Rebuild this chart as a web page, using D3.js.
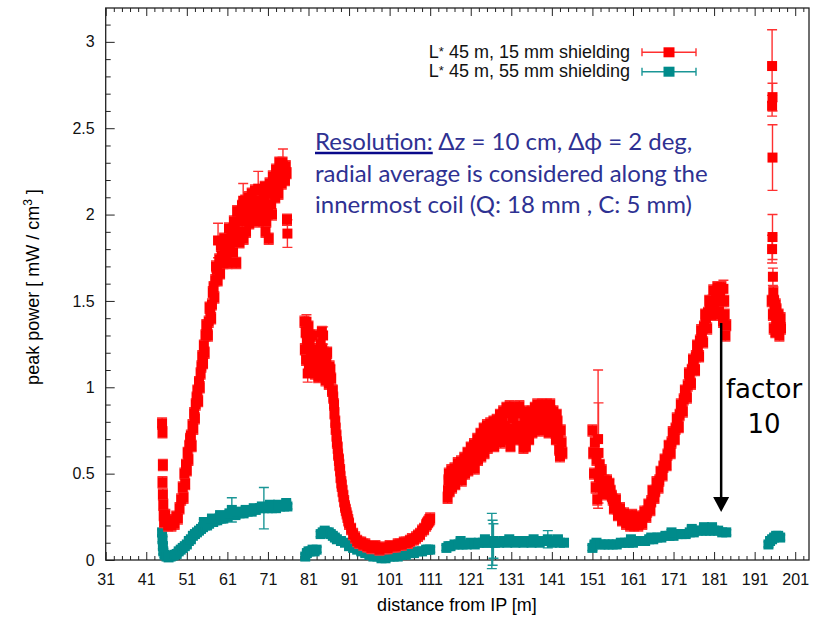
<!DOCTYPE html>
<html>
<head>
<meta charset="utf-8">
<script src="https://cdn.jsdelivr.net/npm/d3@7"></script>
<style>
  body { margin: 0; background: #fff; }
  text { font-family: "Liberation Sans", Arial, sans-serif; }
</style>
</head>
<body>
<div id="chart"></div>
<script>
// tick labels
var xTicks = [31, 41, 51, 61, 71, 81, 91, 101, 111, 121, 131, 141, 151, 161, 171, 181, 191, 201];
var yTicks = [0, 0.5, 1, 1.5, 2, 2.5, 3];
var legendLabels = ["L* 45 m, 15 mm shielding", "L* 45 m, 55 mm shielding"];

// [distance, peak power, error] ; error left out = small default error
var red15 = [
  // 45 - 76 m
  [44.9,0.79],[45.0,0.74],[45.1,0.55],[45.0,0.45],[45.1,0.38],[45.2,0.32],[45.3,0.26],[45.4,0.22],
  [45.7,0.26],[46.0,0.22],[46.4,0.20],[46.8,0.23],[47.2,0.20],[47.6,0.22],[48.0,0.21],[48.4,0.25],
  [48.8,0.24],[49.2,0.30],[49.6,0.35],[50.0,0.42],[50.4,0.50],[50.8,0.55],[51.2,0.62],[51.6,0.66],
  [52.0,0.72],[52.4,0.78],[52.8,0.85],[53.2,0.90],[53.6,0.98],[54.0,1.03],[54.4,1.08],[54.8,1.18],
  [55.2,1.24],[55.6,1.30],[56.0,1.34],[56.4,1.38],[56.8,1.44],[57.2,1.48],[57.6,1.58],[58.0,1.62],
  [58.4,1.68],[58.7,1.85,0.10],[59.2,1.66],[59.6,1.76],[60.0,1.72],[60.4,1.80],[60.8,1.76],[61.2,1.84],
  [61.6,1.80],[62.0,1.88],[62.4,1.78],[62.8,1.92],[63.2,1.72],[63.6,1.96],[64.0,1.84],[64.4,1.98],
  [64.9,2.08,0.10],[65.2,2.02],[65.6,1.90],[66.0,2.04],[66.4,1.95],[66.8,2.06],[67.2,1.98],[67.6,2.08],
  [68.0,2.00],[68.6,2.15,0.10],[68.8,1.96],[69.2,2.08],[69.6,2.00],[70.0,2.10],[70.4,1.90],[70.8,2.12],
  [71.2,1.86],[71.6,2.14],[72.0,2.00],[72.4,2.18],[72.8,2.10],[73.2,2.22],[73.6,2.12],[74.0,2.26],
  [74.4,2.18],[74.7,2.28,0.10],[75.2,2.20],[75.6,2.24],[75.7,1.97],[75.8,1.89,0.08],
  [50.2,0.36],[50.6,0.44],[51.0,0.52],[51.4,0.58],[51.8,0.70],[52.2,0.66],[52.6,0.76],[53.0,0.82],
  [53.4,0.94],[53.8,0.92],[54.2,1.00],[54.6,1.12],[55.0,1.14],[55.4,1.20],[55.8,1.36],[56.2,1.30],
  [56.6,1.46],[57.0,1.40],[57.4,1.55],[57.8,1.52],[58.2,1.70],[58.6,1.62],[59.0,1.74],[59.4,1.82],
  [60.2,1.86],[61.0,1.72],[61.4,1.92],[62.2,1.84],[62.6,1.96],[63.0,1.86],[63.4,2.02],[64.2,1.90],
  [64.6,2.05],[65.0,1.86],[65.4,2.08],[65.8,1.96],[66.2,2.10],[66.6,2.00],[67.0,2.12],[67.4,2.02],
  [67.8,2.14],[68.2,2.05],[69.0,2.14],[69.4,2.02],[69.8,2.06],[70.2,2.16],[70.6,1.96],[71.0,2.04],
  [71.4,2.18],[71.8,2.06],[72.2,2.22],[72.6,2.14],[73.0,2.26],[73.4,2.16],[73.8,2.30],[74.2,2.22],
  [74.6,2.30],[75.0,2.24],[75.4,2.28],
  // 80 - 111 m
  [80.0,1.38],[80.3,1.32],[80.5,1.38,0.04],[80.6,1.28],[80.8,1.08,0.05],[81.0,1.35],[81.3,1.25],
  [81.6,1.20],[82.0,1.30],[82.4,1.18],[82.8,1.12],[83.2,1.15],[83.6,1.10],[84.0,1.25],[84.3,1.32],
  [84.6,1.30,0.05],[85.0,1.10],[85.4,1.15],[85.8,1.08],[86.2,1.12],[86.6,1.05],[87.0,0.98],[87.3,0.90],
  [87.6,0.80],[87.9,0.72],[88.2,0.65],[88.5,0.58],[88.8,0.52],[89.1,0.45],[89.4,0.40],[89.8,0.34],
  [90.2,0.29],[90.6,0.25],[91.0,0.21],[91.5,0.18],[92.0,0.15],[92.5,0.13],[93.0,0.11],[94.0,0.10],
  [95.0,0.09],[96.0,0.08],[97.0,0.08],[98.0,0.07],[99.0,0.07],[100.0,0.07],[101.0,0.08],[102.0,0.08],
  [103.0,0.09],[104.0,0.09],[105.0,0.10],[106.0,0.11],[107.0,0.12],[108.0,0.14],[109.0,0.17],
  [110.0,0.20],[110.5,0.22],[111.0,0.24],
  [80.1,1.22],[80.4,1.16],[80.8,1.24],[81.1,1.12],[81.4,1.30],[81.8,1.14],[82.2,1.22],[82.6,1.08],
  [83.0,1.20],[83.4,1.06],[83.8,1.18],[84.2,1.14],[84.4,1.22],[84.8,1.20],[85.2,1.04],[85.6,1.20],
  [86.0,1.02],[86.4,1.10],[86.8,0.98],[87.1,0.94],[87.4,0.85],[87.7,0.76],[88.0,0.68],[88.3,0.61],
  [88.6,0.55],[88.9,0.48],[89.2,0.43],[89.6,0.37],[90.0,0.31],[90.4,0.27],[90.8,0.23],
  [93.5,0.10],[94.5,0.09],[95.5,0.08],[96.5,0.07],[97.5,0.08],[98.5,0.06],[99.5,0.07],[100.5,0.07],
  [101.5,0.08],[102.5,0.08],[103.5,0.09],[104.5,0.10],[105.5,0.10],[106.5,0.12],[107.5,0.13],
  [108.5,0.15],[109.5,0.18],[110.2,0.21],[110.8,0.23],
  // 115 - 144 m
  [115.3,0.36],[115.5,0.46],[115.8,0.40],[116.1,0.48],[116.4,0.42],[116.8,0.50],[117.2,0.44],[117.6,0.52],
  [118.0,0.47],[118.4,0.54],[118.8,0.46],[119.2,0.55],[119.6,0.50],[120.0,0.58],[120.4,0.52],[120.8,0.60],
  [121.2,0.54],[121.6,0.63],[122.0,0.53],[122.4,0.64],[122.8,0.58],[123.2,0.68],[123.6,0.60],[124.0,0.72],
  [124.4,0.62],[124.8,0.74],[125.2,0.65],[125.6,0.75],[126.0,0.67],[126.4,0.76],[126.8,0.66],[127.2,0.77],
  [127.6,0.70],[128.0,0.80],[128.4,0.68],[128.8,0.82],[129.2,0.72],[129.6,0.85],[130.0,0.70],[130.4,0.86],
  [130.8,0.66],[131.2,0.87],[131.6,0.75],[132.0,0.88],[132.4,0.78],[132.8,0.86],[133.2,0.70],[133.6,0.85],
  [134.0,0.65],[134.4,0.80],[134.8,0.72],[135.2,0.84],[135.6,0.76],[136.0,0.86],[136.4,0.78],[136.8,0.88],
  [137.2,0.80],[137.6,0.87],[138.0,0.78],[138.4,0.86],[138.8,0.80],[139.2,0.88],[139.6,0.78],[140.0,0.87],
  [140.4,0.79],[140.8,0.86],[141.2,0.76],[141.6,0.82],[142.0,0.70],[142.4,0.80],[142.8,0.64],[143.2,0.75],
  [143.6,0.62],
  [115.4,0.40],[115.6,0.50],[116.0,0.44],[116.2,0.52],[116.6,0.46],[117.0,0.53],[117.4,0.48],[117.8,0.56],
  [118.2,0.51],[118.6,0.57],[119.0,0.50],[119.4,0.59],[119.8,0.54],[120.2,0.62],[120.6,0.56],[121.0,0.65],
  [121.4,0.58],[121.8,0.67],[122.2,0.58],[122.6,0.70],[123.0,0.62],[123.4,0.73],[123.8,0.66],[124.2,0.76],
  [124.6,0.68],[125.0,0.78],[125.4,0.70],[125.8,0.79],[126.2,0.71],[126.6,0.80],[127.0,0.72],[127.4,0.81],
  [127.8,0.74],[128.2,0.84],[128.6,0.75],[129.0,0.86],[129.4,0.78],[129.8,0.88],[130.2,0.76],[130.6,0.89],
  [131.0,0.72],[131.4,0.82],[131.8,0.70],[132.2,0.85],[132.6,0.74],[133.0,0.89],[133.4,0.76],[133.8,0.70],
  [134.2,0.86],[134.6,0.66],[135.0,0.78],[135.4,0.70],[135.8,0.82],[136.2,0.74],[136.6,0.83],[137.0,0.76],
  [137.4,0.90],[137.8,0.75],[138.2,0.84],[138.6,0.90],[139.0,0.76],[139.4,0.84],[139.8,0.90],[140.2,0.74],
  [140.6,0.90],[141.0,0.80],[141.4,0.86],[141.8,0.74],[142.2,0.84],[142.6,0.70],[143.0,0.60],[143.4,0.68],
  // 151 - 184 m
  [151.0,0.75],[151.2,0.62],[151.4,0.50],[151.6,0.68],[151.8,0.42],[152.0,0.58],[152.2,0.35],
  [152.4,0.70,0.40],[152.5,0.62,0.29],[152.6,0.48],[152.8,0.55],[153.0,0.44],[153.3,0.52],[153.6,0.40],
  [154.0,0.46],[154.4,0.38],[154.6,0.46],[155.0,0.42],[155.5,0.40],[156.0,0.35],[156.5,0.33],[157.0,0.30],
  [157.5,0.28],[158.0,0.27],[158.5,0.25],[159.0,0.24],[159.5,0.23],[160.0,0.23],[160.5,0.22],[161.0,0.24],
  [161.5,0.22],[162.0,0.23],[162.5,0.21],[163.0,0.24],[163.5,0.25],[164.0,0.26],[164.5,0.28],[165.0,0.31],
  [165.5,0.34],[166.0,0.37],[166.5,0.40],[167.0,0.43],[167.5,0.46],[168.0,0.50],[168.5,0.54],[169.0,0.57],
  [169.5,0.61],[170.0,0.65],[170.5,0.68],[171.0,0.72],[171.5,0.76],[172.0,0.80],[172.5,0.84],[173.0,0.89],
  [173.5,0.93],[174.0,0.97],[174.5,1.01],[175.0,1.06],[175.5,1.10],[176.0,1.15],[176.5,1.18],[177.0,1.22],
  [177.5,1.27],[178.0,1.31],[178.5,1.35],[179.0,1.40],[179.5,1.43],[180.0,1.47],[180.5,1.50],[181.0,1.48],
  [181.5,1.53],[182.0,1.51],[182.5,1.55],[183.0,1.50],[183.3,1.57,0.05],[183.6,1.42],[183.8,1.30],[184.0,1.36],
  [155.2,0.44],[155.8,0.37],[156.3,0.30],[156.8,0.35],[157.3,0.26],[157.8,0.30],[158.3,0.23],[158.8,0.27],
  [159.3,0.21],[159.8,0.25],[160.3,0.20],[160.8,0.26],[161.3,0.20],[161.8,0.25],[162.3,0.20],[162.8,0.22],
  [163.3,0.21],[163.8,0.28],[164.3,0.25],[164.8,0.32],[165.3,0.29],[165.8,0.40],[166.3,0.36],[166.8,0.45],
  [167.3,0.42],[167.8,0.51],[168.3,0.49],[168.8,0.58],[169.3,0.55],[169.8,0.66],[170.3,0.62],[170.8,0.74],
  [171.3,0.70],[171.8,0.82],[172.3,0.77],[172.8,0.90],[173.3,0.86],[173.8,0.98],[174.3,0.94],[174.8,1.08],
  [175.3,1.02],[175.8,1.16],[176.3,1.10],[176.8,1.24],[177.3,1.18],[177.8,1.33],[178.3,1.26],[178.8,1.42],
  [179.3,1.34],[179.8,1.50],[180.3,1.42],[180.8,1.56],[181.3,1.42],[181.8,1.58],[182.2,1.44],[182.8,1.58],
  [183.2,1.38],[183.5,1.50],
  // 195 - 198 m
  [195.3,2.86,0.21],[195.4,2.68,0.08],[195.3,2.63,0.06],[195.4,2.33,0.19],
  [195.4,1.87,0.13],[195.3,1.80,0.08],[195.5,1.64,0.05],[195.6,1.55],[195.8,1.50],[195.9,1.45],
  [196.0,1.42],[196.2,1.48],[196.3,1.38],[196.5,1.40],[196.6,1.35],[196.8,1.37],[197.0,1.33],
  [197.2,1.36],[197.4,1.40],[195.2,1.50],[195.5,1.42],[195.7,1.34],[196.1,1.32],[196.4,1.45],
  [196.9,1.42],[197.1,1.30],[197.5,1.34]
];

var teal55 = [
  [44.9,0.16],[45.0,0.12],[45.1,0.08],[45.2,0.05],[45.5,0.03],[46.0,0.02],[46.5,0.015],[47.0,0.02],
  [47.5,0.025],[48.0,0.03],[48.5,0.035],[49.0,0.05],[49.5,0.06],[50.0,0.07],[50.5,0.08],[51.0,0.09],
  [51.5,0.11],[52.0,0.12],[52.5,0.14],[53.0,0.15],[53.5,0.16],[54.0,0.17],[54.5,0.18],[55.0,0.19],
  [55.5,0.20],[56.0,0.20],[56.5,0.21],[57.0,0.22],[57.5,0.22],[58.0,0.23],[58.5,0.23],[59.0,0.24],
  [59.5,0.24],[60.0,0.24],[61.0,0.25],[62.0,0.26],[62.1,0.29,0.07],[63.0,0.26],[64.0,0.27],[65.0,0.27],
  [66.0,0.28],[67.0,0.28],[68.0,0.29],[69.0,0.30],[70.0,0.30,0.12],[71.0,0.30],[72.0,0.30],[73.0,0.30],
  [74.0,0.31],[75.0,0.31],[75.8,0.31],
  [55.2,0.22],[57.2,0.24],[59.2,0.26],[61.5,0.27],[63.5,0.28],[65.5,0.29],[67.5,0.30],[69.5,0.31],
  [71.5,0.32],[73.5,0.32],[75.5,0.33],
  [80.2,0.02],[80.6,0.04],[81.0,0.05],[81.5,0.05],[82.0,0.06],[82.5,0.05],[83.0,0.06],[84.0,0.15],
  [84.5,0.16],[85.0,0.17],[85.5,0.16],[86.0,0.16],[86.5,0.15],[87.0,0.14],[87.5,0.13],[88.0,0.12],
  [89.0,0.11],[90.0,0.10],[91.0,0.08],[92.0,0.07],[93.0,0.06],[94.0,0.05],[95.0,0.04],[96.0,0.03],
  [97.0,0.02],[98.0,0.02],[99.0,0.01],[100.0,0.01],[101.0,0.02],[102.0,0.02],[103.0,0.02],[104.0,0.03],
  [105.0,0.03],[106.0,0.04],[107.0,0.04],[108.0,0.05],[109.0,0.05],[110.0,0.06],[110.5,0.06],[111.0,0.06],
  [115.0,0.07],[115.5,0.08],[116.0,0.08],[117.0,0.09],[118.0,0.09],[119.0,0.09],[120.0,0.09],[121.0,0.10],
  [122.0,0.09],[123.0,0.10],[124.0,0.10],[125.0,0.10],[126.2,0.11,0.16],[126.4,0.10,0.13],[126.6,0.11,0.10],
  [127.0,0.10],[128.0,0.10],[129.0,0.11],[130.0,0.10],[131.0,0.11],[132.0,0.10],[133.0,0.11],[134.0,0.10],
  [135.0,0.11],[136.0,0.10],[137.0,0.11],[138.0,0.10],[139.0,0.11],[140.0,0.12,0.05],[141.0,0.10],
  [142.0,0.11],[143.0,0.10],[144.0,0.10],
  [118.5,0.11],[124.5,0.12],[130.5,0.12],[136.5,0.12],[142.5,0.12],
  [151.0,0.07],[151.5,0.09],[152.0,0.10],[153.0,0.09],[154.0,0.09],[155.0,0.09],[156.0,0.09],[157.0,0.09],
  [158.0,0.10],[159.0,0.10],[160.0,0.10],[161.0,0.10],[162.0,0.11],[163.0,0.11],[164.0,0.11],[165.0,0.12],
  [166.0,0.12],[167.0,0.13],[168.0,0.13],[169.0,0.14],[170.0,0.14],[171.0,0.14],[172.0,0.15],[173.0,0.15],
  [174.0,0.15],[175.0,0.16],[176.0,0.16],[177.0,0.17],[178.0,0.17],[179.0,0.17],[180.0,0.17],[181.0,0.17],
  [182.0,0.17],[183.0,0.16],[184.0,0.16],
  [160.5,0.12],[165.5,0.13],[170.5,0.16],[175.5,0.18],[178.5,0.19],[180.5,0.19],
  [194.4,0.09],[194.8,0.11],[195.3,0.12],[195.8,0.13],[196.3,0.14],[196.8,0.14],[197.3,0.13]
];

// arrow of the "factor 10" note: [distance, from, to]
var factorArrow = [182.74, 1.372, 0.278];

var margins = { top: 8, right: 10, bottom: 58, left: 105.7 },
  width = 819 - margins.left - margins.right,
  height = 618 - margins.top - margins.bottom;

var svg = d3.select("#chart")
  .append("svg")
  .attr("width", width + margins.left + margins.right)
  .attr("height", height + margins.top + margins.bottom)
  .append("g")
  .attr("transform", "translate(" + margins.left + "," + margins.top + ")");

var x = d3.scaleLinear().domain([31, 204.4]).range([0, width]);
var y = d3.scaleLinear().domain([0, 3.196]).range([height, 0]);

var minorX = d3.range(31, 204.4, 2).filter(function (v) { return (v - 31) % 10 !== 0; });
var minorY = d3.range(0, 3.2, 0.1).filter(function (v) { return Math.abs(v * 2 - Math.round(v * 2)) > 0.01; });

function styleAxis(g) {
  g.select(".domain").remove();
  g.selectAll(".tick line").attr("stroke", "#222").attr("stroke-width", 1);
  g.selectAll(".tick text").style("font-size", "16px").attr("fill", "#111");
}

// bottom axis
svg.append("g").attr("transform", "translate(0," + height + ")")
  .call(d3.axisBottom(x).tickValues(xTicks).tickSize(-8).tickPadding(14).tickFormat(d3.format("d")))
  .call(styleAxis);
svg.append("g").attr("transform", "translate(0," + height + ")")
  .call(d3.axisBottom(x).tickValues(minorX).tickSize(-4).tickFormat(""))
  .call(styleAxis);
// top mirror ticks
svg.append("g")
  .call(d3.axisTop(x).tickValues(xTicks).tickSize(-8).tickFormat(""))
  .call(styleAxis);
svg.append("g")
  .call(d3.axisTop(x).tickValues(minorX).tickSize(-4).tickFormat(""))
  .call(styleAxis);
// left axis
svg.append("g")
  .call(d3.axisLeft(y).tickValues(yTicks).tickSize(-9).tickPadding(11).tickFormat(d3.format("")))
  .call(styleAxis);
svg.append("g")
  .call(d3.axisLeft(y).tickValues(minorY).tickSize(-5).tickFormat(""))
  .call(styleAxis);

// frame
svg.append("rect").attr("width", width).attr("height", height)
  .attr("fill", "none").attr("stroke", "#222").attr("stroke-width", 1.3);

// axis titles
svg.append("text")
  .attr("x", 457 - margins.left).attr("y", 611 - margins.top)
  .style("text-anchor", "middle").style("font-size", "18px")
  .text("distance from IP [m]");

var ylab = svg.append("text")
  .attr("transform", "translate(" + (39 - margins.left) + "," + (287 - margins.top) + ") rotate(-90)")
  .style("text-anchor", "middle").style("font-size", "18px");
ylab.append("tspan").text("peak power [ mW / cm");
ylab.append("tspan").attr("dy", -7).style("font-size", "12px").text("3");
ylab.append("tspan").attr("dy", 7).text(" ]");

function errPath(d, defErr) {
  var e = d[2] !== undefined ? d[2] : defErr;
  var cx = x(d[0]), y1 = y(d[1] + e), y2 = y(d[1] - e);
  return "M" + cx + "," + y1 + "V" + y2 +
    "M" + (cx - 5) + "," + y1 + "H" + (cx + 5) +
    "M" + (cx - 5) + "," + y2 + "H" + (cx + 5);
}

function drawSeries(data, color, barColor, defErr) {
  var g = svg.append("g");
  g.selectAll("path").data(data).enter().append("path")
    .attr("d", function (d) { return errPath(d, defErr); })
    .attr("fill", "none").attr("stroke", barColor).attr("stroke-width", 1.4);
  g.selectAll("rect").data(data).enter().append("rect")
    .attr("x", function (d) { return x(d[0]) - 5; })
    .attr("y", function (d) { return y(d[1]) - 5; })
    .attr("width", 10).attr("height", 10)
    .attr("fill", color);
}

drawSeries(teal55, "#008b8b", "#1a9696", 0.015);
drawSeries(red15, "#ff0000", "#ff3030", 0.032);

// legend
var legColors = ["#ff0000", "#008b8b"];
var legBars = ["#ff3030", "#1a9696"];
legendLabels.forEach(function (lab, i) {
  var ly = 52.3 + i * 19.4 - margins.top;
  var t = svg.append("text")
    .attr("x", 630 - margins.left).attr("y", ly + 5.5)
    .style("text-anchor", "end").style("font-size", "18px").attr("fill", "#111");
  t.append("tspan").text(lab.slice(0, 1));
  t.append("tspan").style("font-size", "13px").attr("dy", -2).text(lab.slice(1, 2));
  t.append("tspan").attr("dy", 2).text(lab.slice(2));
  var lx1 = 642 - margins.left, lx2 = 696 - margins.left;
  svg.append("path")
    .attr("d", "M" + lx1 + "," + ly + "H" + lx2 + "M" + lx1 + "," + (ly - 4) + "V" + (ly + 4) + "M" + lx2 + "," + (ly - 4) + "V" + (ly + 4))
    .attr("stroke", legBars[i]).attr("stroke-width", 1.4).attr("fill", "none");
  svg.append("rect").attr("x", (lx1 + lx2) / 2 - 5.5).attr("y", ly - 5).attr("width", 11).attr("height", 10)
    .attr("fill", legColors[i]);
});

// resolution note
var noteColor = "#2e3192";
var noteFont = "Lato, 'Open Sans', sans-serif";
var res = svg.append("text")
  .attr("x", 315 - margins.left).attr("y", 150 - margins.top)
  .style("font-family", noteFont).style("font-size", "24px")
  .attr("fill", noteColor).text("Resolution:");
var rw = res.node().getComputedTextLength();
svg.append("line")
  .attr("x1", 315 - margins.left).attr("x2", 315 - margins.left + rw)
  .attr("y1", 153 - margins.top).attr("y2", 153 - margins.top)
  .attr("stroke", "#0a0a8a").attr("stroke-width", 2.5);
svg.append("text")
  .attr("x", 315 - margins.left + rw).attr("y", 150 - margins.top)
  .style("font-family", noteFont).style("font-size", "24px")
  .attr("fill", noteColor).text("\u00a0\u0394z = 10 cm, \u0394\u03d5 = 2 deg,");
svg.append("text")
  .attr("x", 315 - margins.left).attr("y", 182 - margins.top)
  .style("font-family", noteFont).style("font-size", "24px")
  .attr("fill", noteColor).text("radial average is considered along the");
svg.append("text")
  .attr("x", 315 - margins.left).attr("y", 213 - margins.top)
  .style("font-family", noteFont).style("font-size", "24px")
  .attr("fill", noteColor).text("innermost coil (Q: 18 mm , C: 5 mm)");

// factor 10 arrow
var ax = x(factorArrow[0]), ay1 = y(factorArrow[1]), ay2 = y(factorArrow[2]);
svg.append("line").attr("x1", ax).attr("x2", ax).attr("y1", ay1).attr("y2", ay2 - 12)
  .attr("stroke", "#000").attr("stroke-width", 2.5);
svg.append("path")
  .attr("d", "M" + (ax - 8) + "," + (ay2 - 15) + "L" + (ax + 8) + "," + (ay2 - 15) + "L" + ax + "," + ay2 + "Z")
  .attr("fill", "#000");
svg.append("text").attr("x", 764 - margins.left).attr("y", 398 - margins.top)
  .style("font-family", "'DejaVu Sans', Verdana, sans-serif").style("font-size", "26px")
  .style("text-anchor", "middle").text("factor");
svg.append("text").attr("x", 764 - margins.left).attr("y", 433 - margins.top)
  .style("font-family", "'DejaVu Sans', Verdana, sans-serif").style("font-size", "26px")
  .style("text-anchor", "middle").text("10");
</script>
</body>
</html>
